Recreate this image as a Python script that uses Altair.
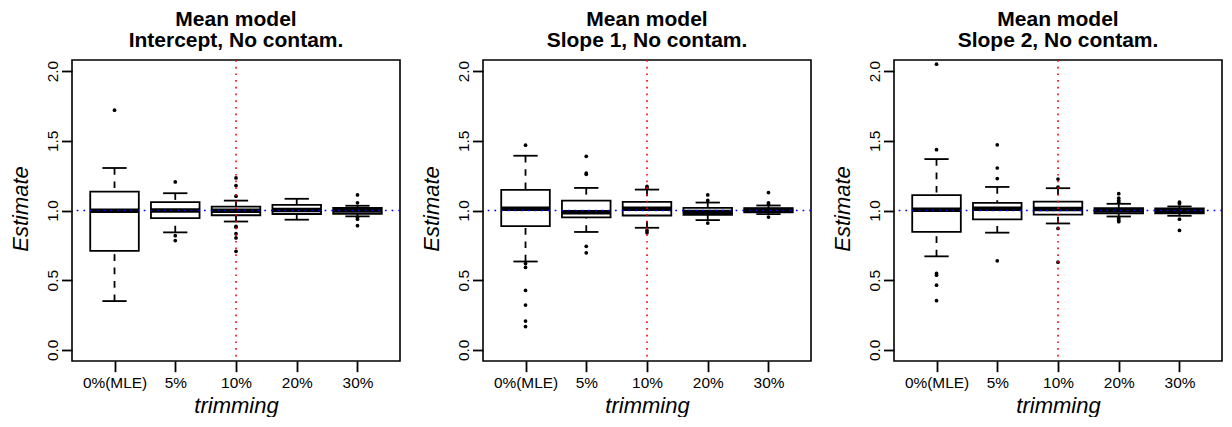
import altair as alt
import pandas as pd

categories = ["0%(MLE)", "5%", "10%", "20%", "30%"]
panel_titles = [
    ["Mean model", "Intercept, No contam."],
    ["Mean model", "Slope 1, No contam."],
    ["Mean model", "Slope 2, No contam."],
]
y_ticks = [0.0, 0.5, 1.0, 1.5, 2.0]
reference_value = [1.0]
reference_trim = ["10%"]

# Panel 1: Intercept
p1_lo = [0.350, 0.843, 0.921, 0.934, 0.958]
p1_q1 = [0.710, 0.946, 0.966, 0.975, 0.976]
p1_med = [0.998, 1.000, 0.998, 1.003, 1.000]
p1_q3 = [1.136, 1.060, 1.028, 1.041, 1.018]
p1_hi = [1.305, 1.124, 1.071, 1.084, 1.034]
p1_out = [
    [1.72],
    [1.205, 0.819, 0.784],
    [1.234, 1.179, 1.103, 0.886, 0.880, 0.834, 0.803, 0.707],
    [],
    [1.112, 1.055, 0.950, 0.938, 0.891],
]

# Panel 2: Slope 1
p2_lo = [0.634, 0.846, 0.876, 0.931, 0.974]
p2_q1 = [0.888, 0.950, 0.964, 0.969, 0.986]
p2_med = [1.012, 0.988, 1.012, 0.990, 1.003]
p2_q3 = [1.148, 1.071, 1.062, 1.019, 1.017]
p2_hi = [1.393, 1.162, 1.150, 1.057, 1.036]
p2_out = [
    [1.469, 0.619, 0.591, 0.426, 0.321, 0.207, 0.167],
    [1.389, 1.269, 1.260, 0.743, 0.696],
    [1.174, 1.160, 0.857, 0.841],
    [1.112, 1.072, 0.910],
    [1.129, 1.055, 1.045, 0.953],
]

# Panel 3: Slope 2
p3_lo = [0.671, 0.841, 0.907, 0.957, 0.962]
p3_q1 = [0.846, 0.936, 0.971, 0.979, 0.979]
p3_med = [1.005, 1.012, 1.010, 1.000, 0.998]
p3_q3 = [1.110, 1.055, 1.064, 1.017, 1.015]
p3_hi = [1.369, 1.169, 1.160, 1.048, 1.029]
p3_out = [
    [2.05, 1.436, 0.548, 0.536, 0.464, 0.353],
    [1.471, 1.305, 1.229, 0.639],
    [1.226, 1.167, 0.871, 0.629],
    [1.121, 1.088, 1.071, 1.060, 0.945, 0.929, 0.920],
    [1.060, 1.048, 0.938, 0.857],
]

FONT = "Liberation Sans"
W, H = 328, 301
STEP = W / 5.4
LW = 1.8


def make_panel(title, lo, q1, med, q3, hi, outs):
    stats = pd.DataFrame({"trim": categories, "lo": lo, "q1": q1, "med": med, "q3": q3, "hi": hi})
    outl = pd.DataFrame([{"trim": c, "v": v} for c, vs in zip(categories, outs) for v in vs])
    ref_h = pd.DataFrame({"v": reference_value})
    ref_v = pd.DataFrame({"trim": reference_trim})

    X = alt.X(
        "trim:N",
        sort=categories,
        scale=alt.Scale(type="point", domain=categories, padding=0.7),
        axis=alt.Axis(
            labelAngle=0, labelBaseline="alphabetic", labelPadding=16, tickSize=10.7,
            tickWidth=LW, tickColor="black", domain=False, grid=False,
            labelFont=FONT, labelFontSize=15.4, labelColor="black", labelOverlap=False,
            title="trimming", titleFont=FONT, titleFontSize=22, titleFontStyle="italic",
            titleFontWeight="normal", titleColor="black", titleBaseline="alphabetic",
            titleAlign="center", titleX=W / 2, titleY=51,
        ),
    )

    def Y(field):
        return alt.Y(
            field,
            scale=alt.Scale(domain=[-0.08, 2.08], nice=False, zero=False),
            axis=alt.Axis(
                values=y_ticks, format=".1f", labelAngle=270, labelAlign="center",
                labelBaseline="alphabetic", labelPadding=3.7, tickSize=10.5,
                tickWidth=LW, tickColor="black", domain=False, grid=False,
                labelFont=FONT, labelFontSize=15.4, labelColor="black", labelOverlap=False,
                title="Estimate", titleFont=FONT, titleFontSize=22, titleFontStyle="italic",
                titleFontWeight="normal", titleColor="black", titleAngle=270,
                titleBaseline="alphabetic", titleAlign="center", titleX=-44.3, titleY=H / 2 - 2,
            ),
        )

    base = alt.Chart(stats)
    wl = base.mark_rule(color="black", strokeWidth=LW, strokeDash=[6.7, 6.7]).encode(
        x=X, y=Y("lo:Q"), y2="q1:Q")
    wh = base.mark_rule(color="black", strokeWidth=LW, strokeDash=[6.7, 6.7]).encode(
        x=X, y=Y("hi:Q"), y2="q3:Q")
    cl = base.mark_tick(color="black", size=0.4 * STEP, thickness=LW, opacity=1).encode(x=X, y=Y("lo:Q"))
    ch = base.mark_tick(color="black", size=0.4 * STEP, thickness=LW, opacity=1).encode(x=X, y=Y("hi:Q"))
    box = base.mark_bar(size=0.8 * STEP, fill="white", stroke="black", strokeWidth=LW, opacity=1).encode(
        x=X, y=Y("q1:Q"), y2="q3:Q")
    md = base.mark_tick(color="black", size=0.8 * STEP, thickness=4.5, opacity=1).encode(x=X, y=Y("med:Q"))
    pts = alt.Chart(outl).mark_circle(color="black", size=14, opacity=1).encode(x=X, y=Y("v:Q"))
    hl = alt.Chart(ref_h).mark_rule(color="blue", strokeWidth=1.6, strokeDash=[1.7, 5]).encode(y=Y("v:Q"))
    vl = alt.Chart(ref_v).mark_rule(color="red", strokeWidth=1.6, strokeDash=[1.7, 5]).encode(x=X)

    return alt.layer(wl, wh, cl, ch, box, md, pts, hl, vl).properties(
        width=W, height=H,
        title=alt.TitleParams(
            text=title, font=FONT, fontSize=21, fontWeight="bold", color="black",
            anchor="middle", frame="group", offset=8, lineHeight=21,
        ),
    )


panels = [
    make_panel(panel_titles[0], p1_lo, p1_q1, p1_med, p1_q3, p1_hi, p1_out),
    make_panel(panel_titles[1], p2_lo, p2_q1, p2_med, p2_q3, p2_hi, p2_out),
    make_panel(panel_titles[2], p3_lo, p3_q1, p3_med, p3_q3, p3_hi, p3_out),
]

chart = alt.hconcat(*panels, spacing=83, bounds="flush").properties(
    padding={"left": 0, "top": 0, "right": 0, "bottom": 0},
    background="white",
).configure_view(stroke="black", strokeWidth=1.6)

chart.save("out.html", embed_options={"renderer": "svg", "actions": False})
